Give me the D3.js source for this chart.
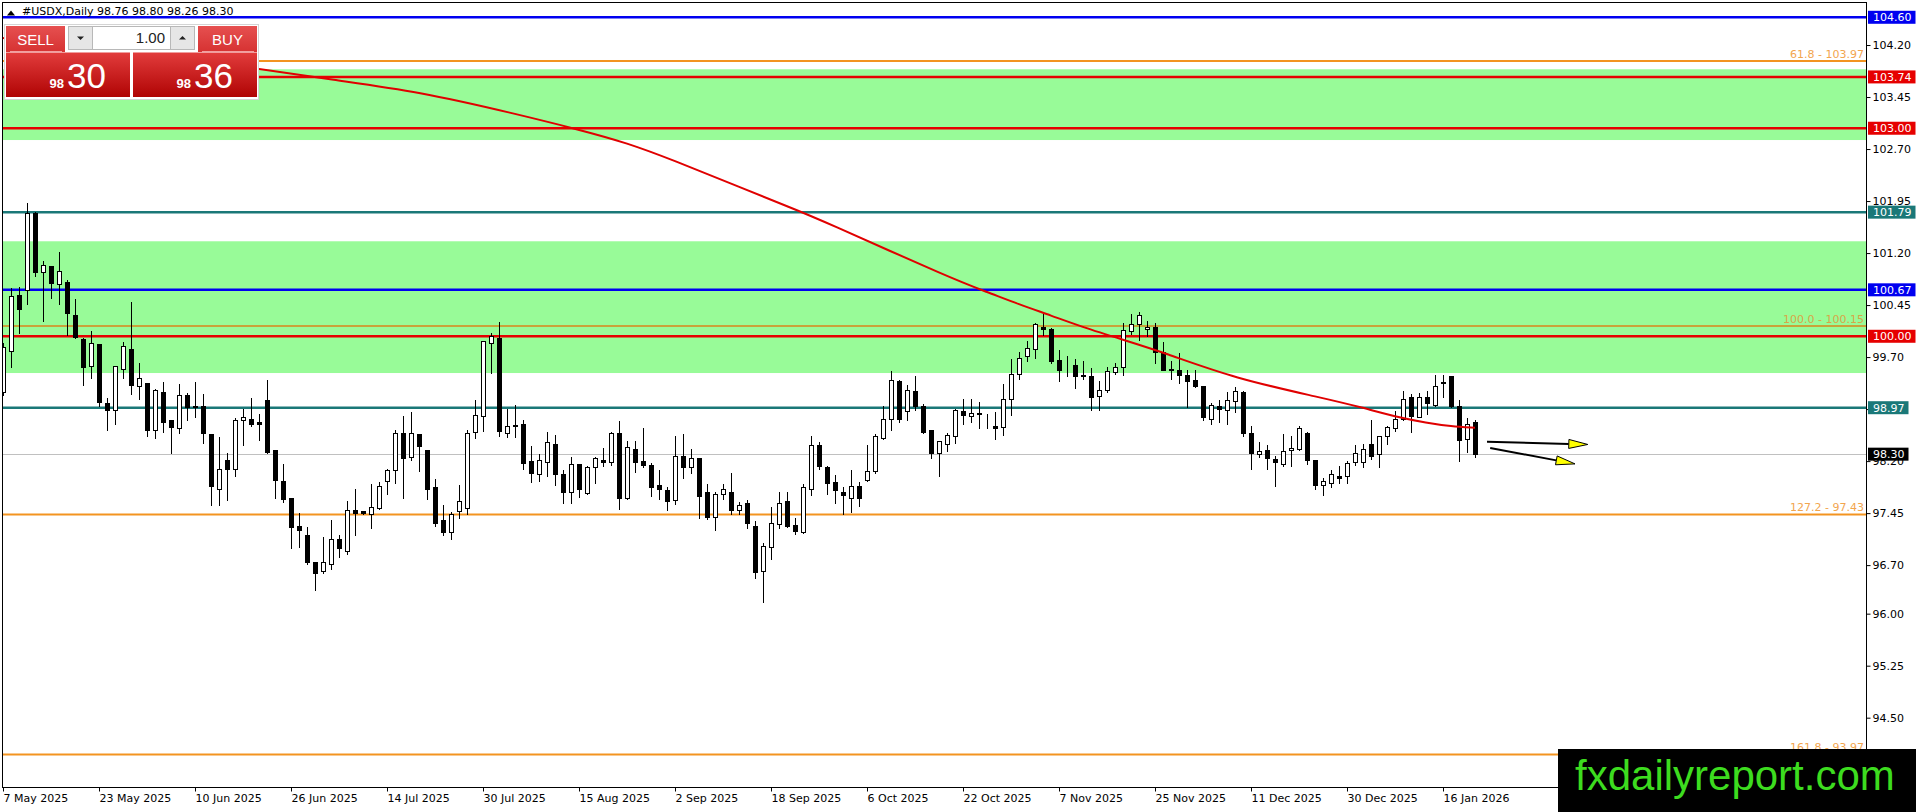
<!DOCTYPE html>
<html>
<head>
<meta charset="utf-8">
<script src="https://cdn.jsdelivr.net/npm/d3@7"></script>
<style>
html, body { margin: 0; padding: 0; background: #fff; overflow: hidden; }
svg { display: block; font-family: "DejaVu Sans", sans-serif; }
</style>
</head>
<body>
<svg width="1916" height="812"></svg>
<script>
// daily bars, 7 May 2025 .. 22 Jan 2026 (index 0..184)
var openPrice = [
  99.19,99.79,100.60,100.67,101.78,100.93,101.01,100.76,100.78,100.31,
  99.96,99.57,99.89,99.04,98.94,99.53,99.82,99.29,99.32,98.65,
  99.20,98.79,98.68,99.15,98.98,99.00,98.59,97.80,98.22,98.09,
  98.79,98.81,98.76,99.08,98.36,97.92,97.67,97.27,97.14,96.75,
  96.61,96.72,97.07,96.91,97.50,97.48,97.44,97.53,97.92,98.07,
  98.61,98.26,98.59,98.36,97.82,97.35,97.18,97.48,97.52,98.62,
  98.85,99.91,99.97,98.61,98.72,98.73,98.20,98.02,98.19,98.45,
  98.02,97.75,98.16,97.74,98.11,98.22,98.19,98.60,97.67,98.38,
  98.20,98.14,97.85,97.79,97.64,98.27,98.12,98.24,97.75,97.40,
  97.72,97.76,97.49,97.59,97.27,96.62,96.96,97.30,97.62,97.28,
  97.18,97.80,98.43,98.12,97.90,97.76,97.67,97.84,97.93,98.06,
  98.54,98.80,99.35,98.92,99.21,99.00,98.65,98.31,98.45,98.56,
  98.92,98.85,98.90,98.77,98.71,98.69,99.10,99.45,99.72,99.82,
  100.13,100.11,99.66,99.59,99.58,99.44,99.43,99.14,99.23,99.49,
  99.56,100.07,100.17,100.10,100.13,99.77,99.53,99.51,99.44,99.37,
  99.28,98.81,99.00,98.93,99.06,99.20,98.60,98.30,98.36,98.23,
  98.16,98.36,98.38,98.61,98.22,97.86,97.88,97.99,97.98,98.19,
  98.19,98.45,98.30,98.56,98.68,98.81,99.13,98.84,99.13,99.01,
  99.34,99.42,98.99,98.52,98.76
];
var highPrice = [
  99.92,100.71,100.73,101.94,101.80,101.10,101.03,101.23,100.83,100.55,
  99.99,100.09,99.90,99.12,99.58,99.93,100.51,99.63,99.33,99.26,
  99.35,98.80,99.33,99.19,99.35,99.18,98.60,98.56,98.33,98.84,
  98.96,99.13,98.89,99.38,98.38,98.17,97.68,97.47,97.26,96.76,
  97.12,97.37,97.15,97.64,97.81,97.50,97.88,97.92,98.10,98.67,
  98.87,98.92,98.60,98.37,97.95,97.58,97.48,97.87,98.66,99.10,
  99.95,100.06,100.22,98.96,99.03,98.80,98.43,98.31,98.63,98.59,
  98.09,98.28,98.17,98.15,98.28,98.40,98.64,98.79,98.50,98.51,
  98.69,98.19,98.09,97.84,98.57,98.60,98.39,98.25,97.89,97.77,
  97.89,98.04,97.63,97.66,97.35,97.03,97.55,97.77,97.77,97.39,
  97.88,98.57,98.49,98.15,98.01,97.84,98.09,97.91,98.45,98.61,
  99.01,99.52,99.39,99.31,99.44,99.04,98.66,98.51,98.62,98.96,
  99.11,99.11,99.07,98.89,98.92,99.32,99.68,99.79,99.94,100.21,
  100.34,100.14,99.82,99.73,99.69,99.66,99.55,99.37,99.57,99.63,
  100.21,100.33,100.36,100.24,100.21,99.93,99.66,99.78,99.53,99.53,
  99.29,99.05,99.09,99.21,99.28,99.22,98.72,98.49,98.44,98.29,
  98.60,98.57,98.72,98.64,98.23,97.97,98.09,98.14,98.22,98.45,
  98.46,98.81,98.57,98.72,98.94,99.22,99.18,99.20,99.22,99.45,
  99.45,99.44,99.10,98.83,98.80
];
var lowPrice = [
  99.15,99.56,100.05,100.47,100.87,100.22,100.55,100.47,100.02,99.98,
  99.30,99.40,98.99,98.65,98.74,99.40,99.17,99.09,98.56,98.53,
  98.62,98.31,98.61,98.79,98.84,98.46,97.56,97.57,97.64,97.98,
  98.43,98.71,98.50,98.31,97.67,97.61,96.95,96.96,96.72,96.34,
  96.58,96.65,96.82,96.86,97.14,97.44,97.23,97.51,97.73,97.89,
  97.67,98.21,98.06,97.65,97.26,97.13,97.07,97.38,97.44,98.53,
  98.64,99.47,98.56,98.55,98.55,98.09,97.90,97.91,97.99,97.86,
  97.59,97.59,97.68,97.73,97.89,98.13,98.15,97.51,97.66,98.04,
  98.12,97.70,97.65,97.49,97.58,97.96,98.03,97.38,97.37,97.21,
  97.66,97.44,97.44,97.23,96.51,96.17,96.79,97.23,97.25,97.15,
  97.16,97.71,98.09,97.73,97.59,97.43,97.47,97.55,97.92,98.03,
  98.52,98.65,98.77,98.79,98.93,98.61,98.25,97.99,98.35,98.46,
  98.74,98.77,98.68,98.68,98.52,98.58,98.87,99.38,99.65,99.69,
  100.02,99.62,99.35,99.43,99.25,99.38,98.94,98.94,99.20,99.46,
  99.44,100.04,99.95,100.01,99.61,99.51,99.39,99.33,98.98,99.27,
  98.79,98.73,98.76,98.74,98.91,98.56,98.09,98.26,98.09,97.84,
  98.13,98.13,98.36,98.16,97.80,97.71,97.82,97.88,97.88,98.14,
  98.11,98.23,98.12,98.45,98.64,98.79,98.62,98.83,98.88,98.99,
  99.12,98.98,98.20,98.33,98.26
];
var closePrice = [
  99.85,100.58,100.39,101.78,100.93,101.03,100.77,100.94,100.33,99.99,
  99.56,99.90,99.05,98.94,99.57,99.86,99.30,99.40,98.65,99.23,
  98.77,98.69,99.16,98.98,99.00,98.60,97.84,98.09,98.09,98.79,
  98.84,98.74,98.73,98.33,97.93,97.66,97.25,97.21,96.74,96.59,
  96.74,97.08,96.95,97.50,97.45,97.45,97.54,97.84,98.07,98.60,
  98.25,98.61,98.42,97.80,97.31,97.18,97.44,97.63,98.61,98.87,
  99.93,100.01,98.64,98.70,98.70,98.17,98.03,98.22,98.47,98.02,
  97.75,98.16,97.80,98.12,98.24,98.19,98.61,97.67,98.40,98.19,
  98.14,97.83,97.80,97.62,98.28,98.11,98.25,97.70,97.40,97.73,
  97.80,97.49,97.57,97.31,96.60,96.98,97.31,97.60,97.26,97.19,
  97.83,98.43,98.13,97.89,97.79,97.71,97.84,97.67,98.06,98.56,
  98.81,99.37,98.80,99.22,99.00,98.62,98.32,98.49,98.58,98.93,
  98.87,98.90,98.88,98.76,98.68,99.09,99.46,99.68,99.83,100.17,
  100.11,99.65,99.52,99.58,99.43,99.43,99.13,99.23,99.50,99.55,
  100.09,100.18,100.30,100.14,99.77,99.52,99.52,99.44,99.36,99.28,
  98.83,99.01,98.95,99.08,99.21,98.61,98.32,98.35,98.24,98.18,
  98.35,98.39,98.68,98.22,97.86,97.92,98.01,97.96,98.17,98.32,
  98.38,98.27,98.56,98.69,98.81,99.10,98.85,99.13,99.04,99.29,
  99.33,98.99,98.51,98.74,98.30
];

// x axis labels, one every 12 bars
var dateTicks = ["7 May 2025", "23 May 2025", "10 Jun 2025", "26 Jun 2025", "14 Jul 2025",
  "30 Jul 2025", "15 Aug 2025", "2 Sep 2025", "18 Sep 2025", "6 Oct 2025", "22 Oct 2025",
  "7 Nov 2025", "25 Nov 2025", "11 Dec 2025", "30 Dec 2025", "16 Jan 2026"];
var barsPerTick = 12;
var priceTicks = [104.20, 103.45, 102.70, 101.95, 101.20, 100.45, 99.70, 98.95, 98.20,
  97.45, 96.70, 96.00, 95.25, 94.50];

// moving average (bar index, value)
var maBar = [0, 16, 32, 41, 52, 64, 72, 78, 84, 91, 99, 102, 119, 123, 127, 131, 135, 140,
  145, 154, 165, 170, 174, 178, 181, 184];
var maVal = [104.30, 104.10, 103.86, 103.70, 103.53, 103.21, 102.98, 102.79, 102.53, 102.20,
  101.83, 101.69, 100.81, 100.64, 100.46, 100.30, 100.13, 99.95, 99.77, 99.39, 99.11, 98.97,
  98.84, 98.75, 98.70, 98.68];

// horizontal levels
var levelPrice = [104.60, 103.74, 103.00, 101.79, 100.67, 100.00, 98.97];
var levelKind = ["major", "resistance", "resistance", "pivot", "major", "resistance", "pivot"];
var fiboRatio = ["61.8", "100.0", "127.2", "161.8"];
var fiboPrice = [103.97, 100.15, 97.43, 93.97];
var zoneHigh = [103.85, 101.37];
var zoneLow = [102.83, 99.47];

var symbol = "#USDX,Daily";
var barOHLC = [98.76, 98.80, 98.26, 98.30];
var lastPrice = 98.30;
var bidPrice = "98.30", askPrice = "98.36", lotSize = "1.00";

// projection arrows (bar index, price)
var arrowFromBar = [185.5, 185.9], arrowFromPrice = [98.48, 98.39];
var arrowToBar = [198.1, 196.5], arrowToPrice = [98.44, 98.16];

var siteName = "fxdailyreport.com";

var svg = d3.select("svg");
var defs = svg.append("defs");

var plotL = 3, plotR = 1867, plotT = 3, plotB = 788;

defs.append("clipPath").attr("id", "plot")
  .append("rect").attr("x", plotL).attr("y", plotT)
  .attr("width", plotR - plotL).attr("height", plotB - plotT);

var nBars = openPrice.length;
var x = d3.scaleLinear().domain([0, nBars - 1]).range([3, 3 + 8 * (nBars - 1)]);
var y = d3.scaleLinear().domain([93.486, 104.806]).range([plotB, plotT]);

var kindColor = { major: "#0000f0", resistance: "#e60000", pivot: "#1a7878" };

function inZone(p) {
  for (var i = 0; i < zoneHigh.length; i++) if (p <= zoneHigh[i] && p >= zoneLow[i]) return true;
  return false;
}

var plot = svg.append("g").attr("clip-path", "url(#plot)");

// green zones
plot.selectAll("rect.zone")
  .data(zoneHigh)
  .enter()
  .append("rect")
  .attr("class", "zone")
  .attr("x", plotL).attr("width", plotR - plotL)
  .attr("y", function(d) { return y(d); })
  .attr("height", function(d, i) { return y(zoneLow[i]) - y(d); })
  .attr("fill", "#98fb98");

// current price line
plot.append("line")
  .attr("x1", plotL).attr("x2", plotR)
  .attr("y1", Math.round(y(lastPrice)) + 0.5).attr("y2", Math.round(y(lastPrice)) + 0.5)
  .attr("stroke", "#c0c0c0");

// fibo levels
plot.selectAll("line.fibo")
  .data(fiboPrice)
  .enter()
  .append("line")
  .attr("x1", plotL).attr("x2", plotR)
  .attr("y1", function(d) { return y(d); }).attr("y2", function(d) { return y(d); })
  .attr("stroke", function(d) { return inZone(d) ? "#c9a23a" : "#f39420"; })
  .attr("stroke-width", 2);

plot.selectAll("text.fibo")
  .data(fiboPrice)
  .enter()
  .append("text")
  .attr("x", plotR - 3)
  .attr("y", function(d) { return y(d) - 3; })
  .attr("text-anchor", "end")
  .attr("font-size", 11)
  .attr("fill", function(d) { return inZone(d) ? "#d7a748" : "#f2a54e"; })
  .text(function(d, i) { return fiboRatio[i] + " - " + d.toFixed(2); });

// support / resistance lines
plot.selectAll("line.level")
  .data(levelPrice)
  .enter()
  .append("line")
  .attr("x1", plotL).attr("x2", plotR)
  .attr("y1", function(d) { return y(d); }).attr("y2", function(d) { return y(d); })
  .attr("stroke", function(d, i) { return kindColor[levelKind[i]]; })
  .attr("stroke-width", 2.5);

// candles
var bars = plot.selectAll("g.bar")
  .data(d3.range(nBars))
  .enter()
  .append("g")
  .attr("class", "bar")
  .attr("shape-rendering", "crispEdges");

function cx(i) { return Math.round(x(i)) + 0.5; }
function py(p) { return Math.round(y(p)) + 0.5; }

bars.append("line")
  .attr("x1", cx).attr("x2", cx)
  .attr("y1", function(i) { return py(highPrice[i]); })
  .attr("y2", function(i) { return py(lowPrice[i]); })
  .attr("stroke", "#000");

bars.append("rect")
  .attr("x", function(i) { return cx(i) - 2; })
  .attr("width", 4)
  .attr("y", function(i) { return Math.min(py(openPrice[i]), py(closePrice[i])); })
  .attr("height", function(i) { return Math.abs(py(openPrice[i]) - py(closePrice[i])); })
  .attr("fill", function(i) { return closePrice[i] >= openPrice[i] ? "#fff" : "#000"; })
  .attr("stroke", "#000");

// moving average
var ma = maBar.map(function(b, i) { return [b, maVal[i]]; });
plot.append("path")
  .datum(ma)
  .attr("d", d3.line()
    .x(function(d) { return x(d[0]); })
    .y(function(d) { return y(d[1]); })
    .curve(d3.curveBasis))
  .attr("fill", "none")
  .attr("stroke", "#e00000")
  .attr("stroke-width", 2);

// projection arrows
arrowFromBar.forEach(function(b, i) {
  var x1 = x(b), y1 = y(arrowFromPrice[i]), x2 = x(arrowToBar[i]), y2 = y(arrowToPrice[i]);
  var len = Math.hypot(x2 - x1, y2 - y1), ux = (x2 - x1) / len, uy = (y2 - y1) / len;
  var bx = x2 - ux * 19, by = y2 - uy * 19;
  plot.append("line")
    .attr("x1", x1).attr("y1", y1).attr("x2", bx).attr("y2", by)
    .attr("stroke", "#000").attr("stroke-width", 2);
  plot.append("path")
    .attr("d", "M" + x2 + "," + y2 +
      "L" + (bx - uy * 4.5) + "," + (by + ux * 4.5) +
      "L" + (bx + uy * 4.5) + "," + (by - ux * 4.5) + "Z")
    .attr("fill", "#ffff00")
    .attr("stroke", "#000")
    .attr("stroke-width", 1);
});

// frame
svg.append("rect")
  .attr("x", plotL - 0.5).attr("y", plotT - 0.5)
  .attr("width", plotR - plotL).attr("height", plotB - plotT)
  .attr("fill", "none").attr("stroke", "#000")
  .attr("shape-rendering", "crispEdges");

// price axis
var yAxis = d3.axisRight(y)
  .tickValues(priceTicks)
  .tickSize(4)
  .tickSizeOuter(0)
  .tickFormat(d3.format(".2f"));

var ya = svg.append("g")
  .attr("transform", "translate(" + (plotR - 0.5) + ",0)")
  .call(yAxis);
ya.attr("font-size", 11).attr("font-family", "DejaVu Sans, sans-serif");
ya.select(".domain").remove();
ya.selectAll("text").attr("x", 6).attr("dy", "0.35em");

// time axis
var xAxis = d3.axisBottom(x)
  .tickValues(dateTicks.map(function(d, i) { return i * barsPerTick; }))
  .tickSize(4)
  .tickSizeOuter(0)
  .tickFormat(function(d) { return dateTicks[d / barsPerTick]; });

var xa = svg.append("g")
  .attr("transform", "translate(0," + (plotB - 0.5) + ")")
  .call(xAxis);
xa.attr("font-size", 11).attr("font-family", "DejaVu Sans, sans-serif");
xa.select(".domain").remove();
xa.selectAll("text").attr("text-anchor", "start").attr("x", 0).attr("y", 7).attr("dy", "0.71em");

// price boxes on the axis
function priceBox(p, color) {
  var g = svg.append("g");
  var r = g.append("rect").attr("x", plotR + 1).attr("y", y(p) - 6.5).attr("height", 13).attr("fill", color);
  var t = g.append("text")
    .attr("x", plotR + 6).attr("y", y(p)).attr("dy", "0.36em")
    .attr("font-size", 11).attr("fill", "#fff")
    .text(p.toFixed(2));
  r.attr("width", t.node().getComputedTextLength() + 9);
}
levelPrice.forEach(function(p, i) { priceBox(p, kindColor[levelKind[i]]); });
priceBox(lastPrice, "#000");

// header
var head = svg.append("g").attr("font-size", 11).attr("fill", "#000");
head.append("path").attr("d", "M7,15.5L15,15.5L11,10.5Z").attr("fill", "#000");
head.append("text").attr("x", 22).attr("y", 15).text(symbol);
head.append("text").attr("x", 97).attr("y", 15).text(barOHLC.map(function(v) { return v.toFixed(2); }).join(" "));

// one-click trading panel
var gb = defs.append("linearGradient").attr("id", "btn").attr("x1", 0).attr("y1", 0).attr("x2", 0).attr("y2", 1);
gb.append("stop").attr("offset", "0%").attr("stop-color", "#e65050");
gb.append("stop").attr("offset", "100%").attr("stop-color", "#d63232");
var gp = defs.append("linearGradient").attr("id", "quote").attr("x1", 0).attr("y1", 0).attr("x2", 0).attr("y2", 1);
gp.append("stop").attr("offset", "0%").attr("stop-color", "#e23c3c");
gp.append("stop").attr("offset", "100%").attr("stop-color", "#b00404");

var panel = svg.append("g").attr("font-family", "'Liberation Sans', Arial, sans-serif");
panel.append("rect").attr("x", 4.5).attr("y", 24.5).attr("width", 254).attr("height", 75)
  .attr("fill", "#fff").attr("stroke", "#d4d4d4");

[[6, "SELL"], [198, "BUY"]].forEach(function(b) {
  panel.append("rect").attr("x", b[0]).attr("y", 26).attr("width", 59).attr("height", 26).attr("fill", "url(#btn)");
  panel.append("line").attr("x1", b[0] + 4).attr("x2", b[0] + 56).attr("y1", 51.5).attr("y2", 51.5)
    .attr("stroke", "#f2a0a0");
  panel.append("text").attr("x", b[0] + 29.5).attr("y", 44.5).attr("text-anchor", "middle")
    .attr("font-family", "'Liberation Sans Narrow', 'Liberation Sans', Arial, sans-serif")
    .attr("font-size", 15).attr("fill", "#fff").text(b[1]);
});

panel.append("rect").attr("x", 68.5).attr("y", 26.5).attr("width", 24).attr("height", 23)
  .attr("fill", "#e6e6e6").attr("stroke", "#b8b8b8");
panel.append("rect").attr("x", 170.5).attr("y", 26.5).attr("width", 24).attr("height", 23)
  .attr("fill", "#e6e6e6").attr("stroke", "#b8b8b8");
panel.append("rect").attr("x", 92.5).attr("y", 26.5).attr("width", 78).attr("height", 23)
  .attr("fill", "#fff").attr("stroke", "#b8b8b8");
panel.append("path").attr("d", "M77,36.5L84,36.5L80.5,40Z").attr("fill", "#222");
panel.append("path").attr("d", "M179,39.5L186,39.5L182.5,36Z").attr("fill", "#222");
panel.append("text").attr("x", 165).attr("y", 43).attr("text-anchor", "end")
  .attr("font-size", 15).attr("fill", "#222").text(lotSize);

[[6, bidPrice], [133, askPrice]].forEach(function(q) {
  var parts = q[1].split(".");
  panel.append("rect").attr("x", q[0]).attr("y", 52.5).attr("width", 124).attr("height", 44.5).attr("fill", "url(#quote)");
  panel.append("text").attr("x", q[0] + 58).attr("y", 87.5).attr("text-anchor", "end")
    .attr("font-size", 13).attr("font-weight", "bold").attr("fill", "#fff").text(parts[0]);
  panel.append("text").attr("x", q[0] + 61).attr("y", 87.5)
    .attr("font-size", 35).attr("fill", "#fff").text(parts[1]);
});

// site badge
svg.append("rect").attr("x", 1558).attr("y", 749).attr("width", 358).attr("height", 63).attr("fill", "#000");
svg.append("text").attr("x", 1575).attr("y", 790)
  .attr("font-family", "'Liberation Sans', Arial, sans-serif")
  .attr("font-size", 42).attr("fill", "#3ddc1f")
  .text(siteName);
</script>
</body>
</html>
